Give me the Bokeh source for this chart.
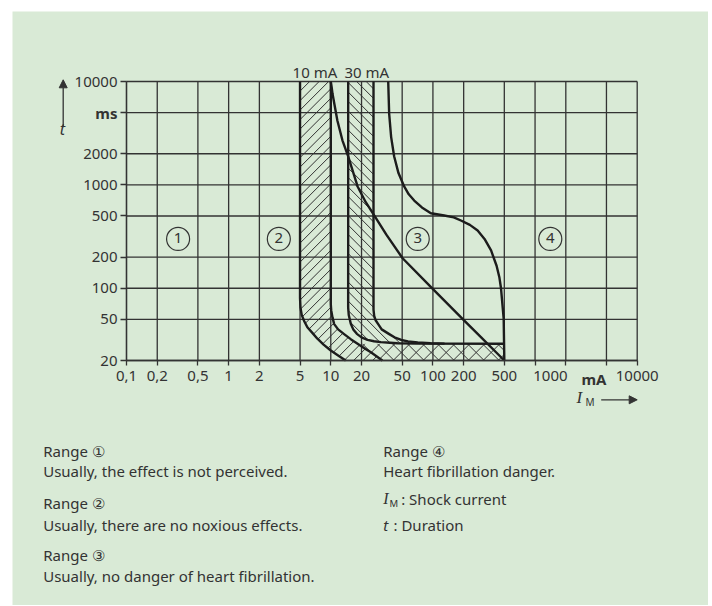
import math
from bokeh.plotting import figure
from bokeh.layouts import column, row
from bokeh.models import Range1d, FixedTicker, Label, Arrow, NormalHead, Spacer
from bokeh.core.properties import value
from bokeh.embed import file_html
from bokeh.resources import INLINE

BG = "#d9ead6"
INK = "#333333"
LINE = "#1c1c1c"
FONT = "Noto Sans"

# ---------------- data ----------------
x_grid = [0.1, 0.2, 0.5, 1, 2, 5, 10, 20, 50, 100, 200, 500, 1000, 2000, 5000, 10000]
y_grid = [20, 50, 100, 200, 500, 1000, 2000, 5000, 10000]

x_tick_pos = [0.1, 0.2, 0.5, 1, 2, 5, 10, 20, 50, 100, 200, 500, 1413, 3770, 10000]
x_tick_labels = ["0,1", "0,2", "0,5", "1", "2", "5", "10", "20", "50", "100", "200", "500",
                 "1000", "mA", "10000"]
y_tick_pos = [20, 50, 100, 200, 500, 1000, 2000, 5000, 10000]
y_tick_labels = ["20", "50", "100", "200", "500", "1000", "2000", "ms", "10000"]
unit_labels = ["mA", "ms"]

# boundary a (5 mA)
a_x = [5, 5, 5.05, 5.2, 5.5, 5.9, 6.6, 7.4, 8.5, 10, 11.7, 14]
a_t = [10000, 80, 65, 55, 48, 42, 37, 32.5, 28.5, 25, 22.5, 20]
# boundary b (10 mA)
b_x = [10, 10, 10.1, 10.4, 10.8, 11.8, 13.5, 15.8, 18.3, 21.3, 24.7, 28, 32]
b_t = [10000, 70, 61, 52, 45, 40, 36, 32, 29, 26.3, 24, 22, 20]
# boundary c (15 mA)
c_x = [14.8, 14.8, 15.0, 15.7, 16.6, 18, 20, 22.9, 26.5, 30.9, 38, 45, 70, 500]
c_t = [10000, 65, 55, 45.3, 40, 36.2, 33.5, 31.7, 30.7, 30.1, 29.7, 29.4, 29.1, 29]
# boundary d (30 mA)
d_x = [26.2, 26.2, 26.6, 27.5, 29, 31.5, 37, 42, 49, 57, 71, 95, 130]
d_t = [10000, 62, 54, 49, 45.3, 40, 36.2, 33.5, 31.6, 30.6, 29.9, 29.4, 29.1]
# curve c1
c1_x = [10, 10.2, 10.4, 11.6, 13, 14.8, 18.3, 22, 27, 35, 50.5, 99, 195, 295, 500]
c1_t = [10000, 8800, 7600, 4200, 2700, 1890, 965, 680, 495, 330, 195, 99, 50.6, 33.6, 20]
# curve c2
c2_x = [36.5, 37.3, 39, 41.7, 46, 52.3, 58, 65.6, 78, 95.5, 129, 160, 188, 230, 274,
        320, 371, 420, 447, 464, 493, 500]
c2_t = [10000, 4865, 2900, 1890, 1300, 965, 810, 705, 605, 532, 505, 485, 452, 410, 362,
        300, 232, 165, 128, 100, 50.6, 20]

band_labels = ["10 mA", "30 mA"]
band_x = [7.0, 22.5]

region_labels = ["1", "2", "3", "4"]
region_x = [0.32, 3.1, 71, 1410]
region_t = [300, 300, 300, 300]

notes_left = ["Range \u2460", "Usually, the effect is not perceived.",
              "Range \u2461", "Usually, there are no noxious effects.",
              "Range \u2462", "Usually, no danger of heart fibrillation."]
notes_right = ["Range \u2463", "Heart fibrillation danger."]

# ---------------- layout geometry (page pixels) ----------------
OFF_X, OFF_Y = 12, 11          # top-left of the green panel
FIG_W, FIG_H = 696, 594
CH_L, CH_R, CH_T, CH_B = 126, 636.7, 81, 360   # chart grid box on the page
BL = 6                                          # baseline correction for labels


def sx(px):
    return px - OFF_X


def sy(py):
    return (OFF_Y + FIG_H) - py


lx0, lx1 = math.log10(x_grid[0]), math.log10(x_grid[-1])
ly0, ly1 = math.log10(y_grid[0]), math.log10(y_grid[-1])
dec_x = (CH_R - CH_L) / (lx1 - lx0)
dec_y = (CH_B - CH_T) / (ly1 - ly0)
xr = Range1d(10 ** (lx0 - sx(CH_L) / dec_x), 10 ** (lx1 + (FIG_W - sx(CH_R)) / dec_x))
yr = Range1d(10 ** (ly0 - sy(CH_B) / dec_y), 10 ** (ly1 + (CH_T - OFF_Y) / dec_y))


def hatch_lines(xs, ts, step, direction):
    """45-degree hatch lines (in screen space) clipped to the polygon xs/ts."""
    pts = [(math.log10(x) * dec_x, math.log10(t) * dec_y) for x, t in zip(xs, ts)]
    if direction == "/":
        sr = [(v - u, u + v) for u, v in pts]
        back = lambda s, r: ((r - s) / 2, (r + s) / 2)
    else:
        sr = [(v + u, u - v) for u, v in pts]
        back = lambda s, r: ((s + r) / 2, (s - r) / 2)
    ss = [s for s, _ in sr]
    out = ([], [], [], [])
    n = len(sr)
    for k in range(math.ceil(min(ss) / step), math.floor(max(ss) / step) + 1):
        s = k * step
        rs = []
        for i in range(n):
            s1, r1 = sr[i]
            s2, r2 = sr[(i + 1) % n]
            if (s1 <= s < s2) or (s2 <= s < s1):
                rs.append(r1 + (s - s1) / (s2 - s1) * (r2 - r1))
        rs.sort()
        for j in range(0, len(rs) - 1, 2):
            u0, v0 = back(s, rs[j])
            u1, v1 = back(s, rs[j + 1])
            out[0].append(10 ** (u0 / dec_x))
            out[1].append(10 ** (v0 / dec_y))
            out[2].append(10 ** (u1 / dec_x))
            out[3].append(10 ** (v1 / dec_y))
    return out


fig = figure(width=FIG_W, height=FIG_H, x_axis_type="log", y_axis_type="log",
             x_range=xr, y_range=yr,
             min_border=0, min_border_left=0, min_border_right=0,
             min_border_top=0, min_border_bottom=0,
             background_fill_color=BG, border_fill_color=BG,
             outline_line_color=None,
             output_backend="svg", toolbar_location=None)
fig.xgrid.visible = False
fig.ygrid.visible = False

# grid lines of the chart
nx, ny = len(x_grid), len(y_grid)
fig.segment(x0=x_grid, y0=[y_grid[0]] * nx, x1=x_grid, y1=[y_grid[-1]] * nx,
            line_color=INK, line_width=1.3)
fig.segment(x0=[x_grid[0]] * ny, y0=y_grid, x1=[x_grid[-1]] * ny, y1=y_grid,
            line_color=INK, line_width=1.3)

# x axis (fixed inside the panel)
xax = fig.xaxis[0]
xax.fixed_location = y_grid[0]
xax.bounds = (x_grid[0], x_grid[-1])
xax.ticker = FixedTicker(ticks=x_tick_pos, minor_ticks=x_grid)
xax.major_label_overrides = {v: ("" if l in unit_labels else l)
                             for v, l in zip(x_tick_pos, x_tick_labels)}
xax.major_tick_line_color = None
xax.major_tick_out = 5
xax.major_tick_in = 0
xax.minor_tick_line_color = INK
xax.minor_tick_line_width = 1.3
xax.minor_tick_in = 0
xax.minor_tick_out = 5
xax.axis_line_color = INK
xax.axis_line_width = 1.3
xax.major_label_standoff = 5
xax.major_label_text_font = FONT
xax.major_label_text_font_size = "15px"
xax.major_label_text_color = INK

# y axis
yax = fig.yaxis[0]
yax.fixed_location = x_grid[0]
yax.bounds = (y_grid[0], y_grid[-1])
yax.ticker = FixedTicker(ticks=y_tick_pos, minor_ticks=[])
yax.major_label_overrides = {v: ("" if l in unit_labels else l)
                             for v, l in zip(y_tick_pos, y_tick_labels)}
yax.major_tick_line_color = INK
yax.major_tick_line_width = 1.3
yax.major_tick_in = 0
yax.major_tick_out = 6
yax.minor_tick_line_color = None
yax.axis_line_color = INK
yax.axis_line_width = 1.3
yax.major_label_standoff = 3
yax.major_label_text_font = FONT
yax.major_label_text_font_size = "15px"
yax.major_label_text_color = INK

# bold unit labels on the axes
for v, l in zip(x_tick_pos, x_tick_labels):
    if l in unit_labels:
        fig.add_layout(Label(x=v, y=sy(378), x_units="data", y_units="screen", text=l,
                             text_align="center", text_baseline="middle",
                             text_font=FONT, text_font_size="15px",
                             text_font_style="bold", text_color=INK))
for v, l in zip(y_tick_pos, y_tick_labels):
    if l in unit_labels:
        fig.add_layout(Label(x=sx(CH_L) - 9, y=v, x_units="screen", y_units="data", text=l,
                             text_align="right", text_baseline="middle",
                             text_font=FONT, text_font_size="15px",
                             text_font_style="bold", text_color=INK))

# hatched areas (45-degree lines clipped to the band outlines)
band1_x = a_x + b_x[::-1]
band1_t = a_t + b_t[::-1]
band2_x = c_x[:-1] + d_x[::-1]
band2_t = c_t[:-1] + d_t[::-1]
t_floor = c_t[-1]
low_b = [(x, t) for x, t in zip(b_x, b_t) if t <= t_floor]
strip_x = [c2_x[-1], c2_x[-1]] + [x for x, _ in low_b[::-1]] + [low_b[0][0]]
strip_t = [t_floor, c2_t[-1]] + [t for _, t in low_b[::-1]] + [t_floor]

for px_, pt_, step, direction in ((band1_x, band1_t, 9.5, "/"),
                                  (band2_x, band2_t, 9.5, "\\"),
                                  (strip_x, strip_t, 15, "/"),
                                  (strip_x, strip_t, 15, "\\")):
    hx0, hy0, hx1, hy1 = hatch_lines(px_, pt_, step, direction)
    fig.segment(x0=hx0, y0=hy0, x1=hx1, y1=hy1, line_color=INK, line_width=1)

# curves
for xs, ts in ((a_x, a_t), (b_x, b_t), (c_x, c_t), (d_x, d_t), (c1_x, c1_t), (c2_x, c2_t)):
    fig.line(xs, ts, line_width=2.4, line_color=LINE, line_join="round")

# region markers
fig.scatter(region_x, region_t, marker="circle", size=23, fill_color=None,
            line_color=INK, line_width=1.2)
fig.text(region_x, region_t, text=region_labels, text_align="center",
         text_baseline="middle", text_font=value(FONT), text_font_size="15px",
         text_color=INK, y_offset=-1)

# band labels above the grid
for bx, bl in zip(band_x, band_labels):
    fig.add_layout(Label(x=bx, y=sy(77.3 - BL), x_units="data", y_units="screen", text=bl,
                         text_align="center", text_baseline="alphabetic",
                         text_font=FONT, text_font_size="15px", text_color=INK))

# axis titles with arrows
fig.add_layout(Label(x=sx(62), y=sy(134 - BL), x_units="screen", y_units="screen", text="t",
                     text_align="center", text_baseline="alphabetic",
                     text_font=FONT, text_font_size="16px", text_font_style="italic",
                     text_color=INK))
fig.add_layout(Arrow(x_start=sx(62.7), y_start=sy(126.7), x_end=sx(62.7), y_end=sy(79.3),
                     start_units="screen", end_units="screen",
                     line_color=INK, line_width=1.3,
                     end=NormalHead(size=8, fill_color=INK, line_color=INK)))
fig.add_layout(Label(x=sx(576), y=sy(403.3 - BL), x_units="screen", y_units="screen", text="I",
                     text_baseline="alphabetic", text_font="Liberation Serif",
                     text_font_size="17px", text_font_style="italic", text_color=INK))
fig.add_layout(Label(x=sx(585), y=sy(405.5 - 4), x_units="screen", y_units="screen", text="M",
                     text_baseline="alphabetic", text_font=FONT,
                     text_font_size="10px", text_color=INK))
fig.add_layout(Arrow(x_start=sx(600.7), y_start=sy(399.3), x_end=sx(636.7), y_end=sy(399.3),
                     start_units="screen", end_units="screen",
                     line_color=INK, line_width=1.3,
                     end=NormalHead(size=8, fill_color=INK, line_color=INK)))

# notes below the chart
left_base = [456, 476.7, 508.3, 530, 560, 581.7]
for txt, yb in zip(notes_left, left_base):
    fig.add_layout(Label(x=sx(42.7), y=sy(yb - BL), x_units="screen", y_units="screen",
                         text=txt, text_baseline="alphabetic", text_font=FONT,
                         text_font_size="15px", text_color=INK))
right_base = [456, 476.7]
for txt, yb in zip(notes_right, right_base):
    fig.add_layout(Label(x=sx(382.7), y=sy(yb - BL), x_units="screen", y_units="screen",
                         text=txt, text_baseline="alphabetic", text_font=FONT,
                         text_font_size="15px", text_color=INK))
fig.add_layout(Label(x=sx(382.7), y=sy(504 - BL), x_units="screen", y_units="screen", text="I",
                     text_baseline="alphabetic", text_font="Liberation Serif",
                     text_font_size="16px", text_font_style="italic", text_color=INK))
fig.add_layout(Label(x=sx(389), y=sy(506.5 - 4), x_units="screen", y_units="screen", text="M",
                     text_baseline="alphabetic", text_font=FONT,
                     text_font_size="9.5px", text_color=INK))
fig.add_layout(Label(x=sx(400.7), y=sy(504 - BL), x_units="screen", y_units="screen",
                     text=": Shock current", text_baseline="alphabetic",
                     text_font=FONT, text_font_size="15px", text_color=INK))
fig.add_layout(Label(x=sx(382.7), y=sy(530.7 - BL), x_units="screen", y_units="screen",
                     text="t", text_baseline="alphabetic", text_font=FONT,
                     text_font_size="15px", text_font_style="italic", text_color=INK))
fig.add_layout(Label(x=sx(393), y=sy(530.7 - BL), x_units="screen", y_units="screen",
                     text=": Duration", text_baseline="alphabetic",
                     text_font=FONT, text_font_size="15px", text_color=INK))

p = column(Spacer(height=OFF_Y), row(Spacer(width=OFF_X), fig))

open("out.html", "w").write(file_html(p, INLINE))
